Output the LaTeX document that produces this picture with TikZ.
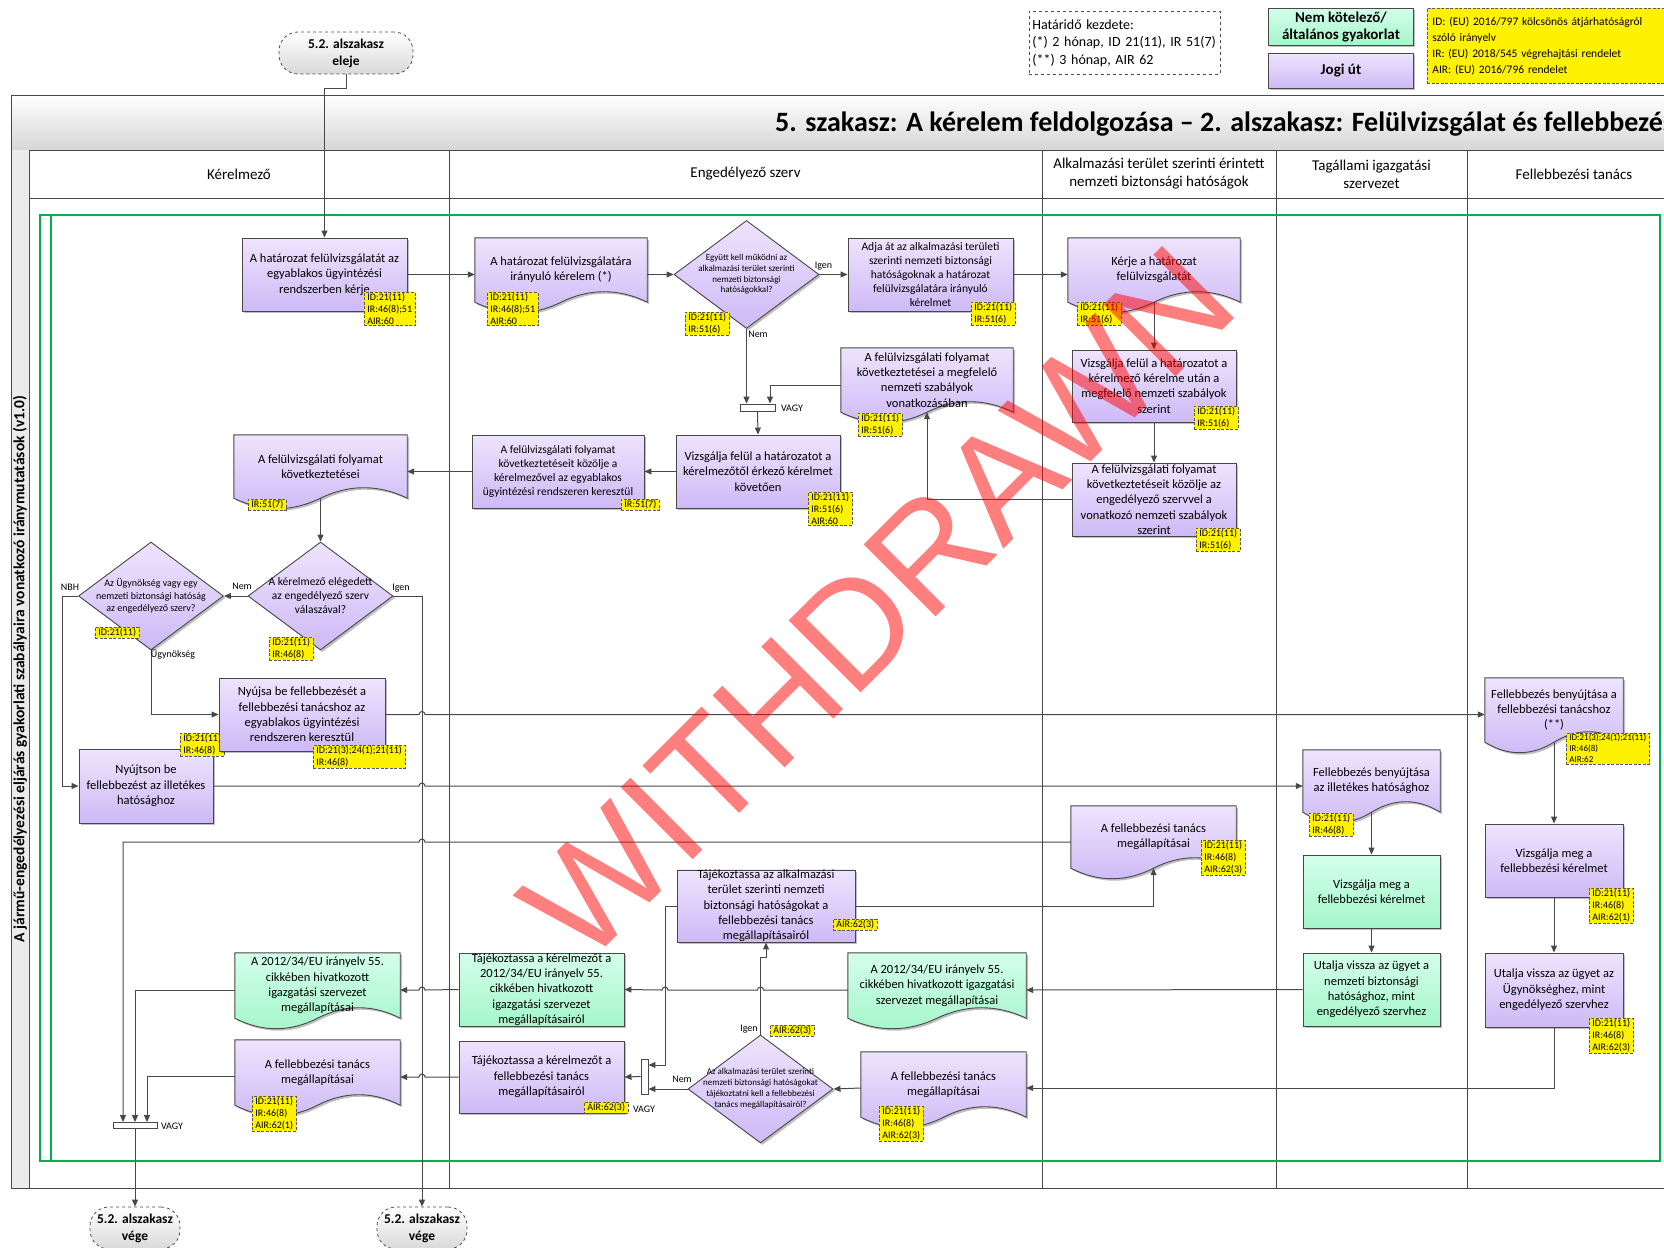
\documentclass[tikz,border=0pt]{standalone}
\usepackage{fontspec}
\setmainfont{Carlito}
\newfontfamily\wmfont{Liberation Sans}
\usetikzlibrary{calc,positioning,arrows.meta,shapes.geometric,shapes.symbols,shadows,backgrounds}

\definecolor{purpT}{RGB}{238,228,253}
\definecolor{purpB}{RGB}{206,185,246}
\definecolor{grnT}{RGB}{212,255,234}
\definecolor{grnB}{RGB}{164,246,202}
\definecolor{lineC}{RGB}{72,72,72}
\definecolor{frameG}{RGB}{0,176,80}

\newcommand{\bx}{\fontsize{12.5}{15.3}\selectfont}
\newcommand{\sbx}{\fontsize{11.5}{14}\selectfont}
\newcommand{\rf}{\fontsize{10}{12}\selectfont}
\newcommand{\jr}{arc[start angle=180,end angle=0,radius=3pt]}
\newcommand{\jl}{arc[start angle=0,end angle=180,radius=3pt]}

\tikzset{
>={Triangle[length=7pt,width=6pt]},
  shadowed/.style={drop shadow={shadow xshift=2pt, shadow yshift=-2pt, opacity=.25, fill=black}},
  procbox/.style={
    rectangle,
    draw=lineC, line width=.9pt,
    top color=purpT, bottom color=purpB,
    shadowed,
    align=center,
    inner xsep=2pt, inner ysep=0pt,
    font=\bx},
  greenbox/.style={procbox, top color=grnT, bottom color=grnB},
  docbox/.style={
    rectangle,
    align=center,
    inner xsep=2pt, inner ysep=0pt,
    font=\bx},
  docshade/.style={draw=lineC, line width=.9pt, top color=#1T, bottom color=#1B, shadowed},
  decision/.style={
    diamond, aspect=1.35,
    draw=lineC, line width=.9pt,
    top color=purpT, bottom color=purpB,
    shadowed,
    minimum width=145pt, minimum height=108pt,
    inner sep=-12pt, align=center},
  refbox/.style={
    anchor=north west,
    fill=yellow, draw=black!65, line width=.8pt,
    dash pattern=on 3pt off 1.5pt,
    inner xsep=3pt, inner ysep=1pt, align=left, font=\rf},
  orbar/.style={rectangle, draw=lineC, fill=white, line width=.9pt, inner sep=0pt},
  terminal/.style={
    rectangle, rounded corners=19pt,
    draw=black!70, dashed, line width=.8pt,
    top color=white, bottom color=black!15,
    minimum width=90pt, minimum height=42pt,
    align=center, inner sep=0pt,
    font=\fontsize{13.5}{17}\selectfont\bfseries},
  lanehead/.style={align=center, font=\fontsize{15}{18}\selectfont},
  lbl/.style={font=\fontsize{10}{12}\selectfont, inner sep=1pt},
  line/.style={draw=lineC, line width=1pt, ->},
}

\begin{document}
\begin{tikzpicture}[x=1pt, y=-1pt]
\useasboundingbox (0,0) rectangle (1664,1247);
\clip (0,0) rectangle (1664,1247);

% pool, title bar and lanes
\shade[top color=white, bottom color=black!16, draw=lineC, line width=1pt] (11,95) rectangle (1690,150);
\fill[black!8] (11,150) rectangle (29,1188);
\draw[lineC, line width=1pt] (11,150) -- (11,1188) -- (1690,1188);
\draw[lineC, line width=1pt] (29,150) -- (29,1188);
\draw[lineC, line width=1pt] (29,198) -- (1690,198);
\foreach \x in {449,1042,1276,1467}
  \draw[lineC, line width=1pt] (\x,150) -- (\x,1188);

\node[anchor=base west, inner sep=0pt, font=\fontsize{28}{32}\selectfont\bfseries] (title) at (775,131) {5. szakasz: A kérelem feldolgozása – 2. alszakasz: Felülvizsgálat és fellebbezés};
\node[rotate=90, inner sep=0pt, font=\fontsize{15.5}{17}\selectfont\bfseries] (sideTitle) at (20,669) {A jármű-engedélyezési eljárás gyakorlati szabályaira vonatkozó iránymutatások (v1.0)};

\node[lanehead] (laneApp) at (239,174) {Kérelmező};
\node[lanehead] (laneEnt) at (745.5,174) {Engedélyező szerv};
\node[lanehead] (laneNSA) at (1159,174) {Alkalmazási terület szerinti érintett\\nemzeti biztonsági hatóságok};
\node[lanehead] (laneAdmin) at (1371.5,174) {Tagállami igazgatási\\szervezet};
\node[lanehead] (laneBoard) at (1574,174) {Fellebbezési tanács};

\draw[frameG, line width=2.5pt] (40,215) rectangle (1660,1161);
\draw[frameG, line width=2.5pt] (51,215) -- (51,1161);

% legend
\node[draw=black!70, dashed, line width=.6pt, anchor=north west, minimum width=191pt, minimum height=63pt, text width=185pt, align=left, inner sep=3pt, font=\fontsize{14}{17.5}\selectfont] (deadline) at (1029,11) {Határidő kezdete:\\(*) 2 hónap, ID 21(11), IR 51(7)\\(**) 3 hónap, AIR 62};
\node[greenbox, anchor=north west, minimum width=145pt, minimum height=37pt, font=\fontsize{15}{17}\selectfont\bfseries] (legOpt) at (1268,8) {Nem kötelező/\\általános gyakorlat};
\node[procbox, anchor=north west, minimum width=145pt, minimum height=35pt, font=\fontsize{15}{17}\selectfont\bfseries] (legLaw) at (1268,53) {Jogi út};
\node[refbox, minimum width=250pt, minimum height=75pt, text width=240pt, inner xsep=4pt, font=\fontsize{11.5}{16}\selectfont] (legRef) at (1427,8) {ID: (EU) 2016/797 kölcsönös átjárhatóságról\\szóló irányelv\\IR: (EU) 2018/545 végrehajtási rendelet\\AIR: (EU) 2016/796 rendelet};

\node[terminal, minimum width=134pt] (start) at (346,53) {5.2. alszakasz\\eleje};

% review
\node[procbox, minimum width=165pt, minimum height=73pt] (askReview) at (324.5,274.5) {A határozat felülvizsgálatát az\\egyablakos ügyintézési\\rendszerben kérje};
\node[docbox, minimum width=172pt, minimum height=64pt] (reviewReq) at (561,270) {A határozat felülvizsgálatára\\irányuló kérelem (*)};
\node[decision, font=\fontsize{9}{10.6}\selectfont] (coopNSA) at (746.5,274.5) {Együtt kell működni az\\alkalmazási terület szerinti\\nemzeti biztonsági\\hatóságokkal?};
\node[procbox, font=\sbx, minimum width=165pt, minimum height=73pt] (forwardNSA) at (930.5,274.5) {Adja át az alkalmazási területi\\szerinti nemzeti biztonsági\\hatóságoknak a határozat\\felülvizsgálatára irányuló\\kérelmet};
\node[docbox, minimum width=172pt, minimum height=64pt] (nsaAsk) at (1154,270) {Kérje a határozat\\felülvizsgálatát};
\node[docbox, minimum width=172pt, minimum height=64pt] (natConcl) at (927,380) {A felülvizsgálati folyamat\\következtetései a megfelelő\\nemzeti szabályok\\vonatkozásában};
\node[procbox, minimum width=164pt, minimum height=72pt] (nsaReview) at (1154,386) {Vizsgálja felül a határozatot a\\kérelmező kérelme után a\\megfelelő nemzeti szabályok\\szerint};
\node[orbar, minimum width=35pt, minimum height=7pt] (orA) at (757.5,407.5) {};
\node[docbox, minimum width=173pt, minimum height=63pt] (reviewConcl) at (320.5,466.5) {A felülvizsgálati folyamat\\következtetései};
\node[procbox, font=\sbx, minimum width=172pt, minimum height=73pt] (sendConcl) at (558,471.5) {A felülvizsgálati folyamat\\következtetéseit közölje a\\kérelmezővel az egyablakos\\ügyintézési rendszeren keresztül};
\node[procbox, minimum width=164pt, minimum height=73pt] (entReview) at (758,471.5) {Vizsgálja felül a határozatot a\\kérelmezőtől érkező kérelmet\\követően};
\node[procbox, minimum width=164pt, minimum height=73pt] (nsaConcl) at (1154,499.5) {A felülvizsgálati folyamat\\következtetéseit közölje az\\engedélyező szervvel a\\vonatkozó nemzeti szabályok\\szerint};

% appeal
\node[decision, font=\fontsize{11.5}{14}\selectfont] (satisfied) at (320.5,596) {A kérelmező elégedett\\az engedélyező szerv\\válaszával?};
\node[decision, font=\fontsize{10}{12.8}\selectfont] (whoEnt) at (151,596) {Az Ügynökség vagy egy\\nemzeti biztonsági hatóság\\az engedélyező szerv?};
\node[procbox, minimum width=134pt, minimum height=74pt] (appealNSA) at (146,786) {Nyújtson be\\fellebbezést az illetékes\\hatósághoz};
\node[refbox] (refAppealNSA) at (180,733) {ID:21(11)\\IR:46(8)};
\node[procbox, minimum width=166pt, minimum height=73pt] (appealBoard) at (302,714.5) {Nyújsa be fellebbezését a\\fellebbezési tanácshoz az\\egyablakos ügyintézési\\rendszeren keresztül};
\node[docbox, minimum width=138pt, minimum height=64pt] (boardAppeal) at (1554,710) {Fellebbezés benyújtása a\\fellebbezési tanácshoz\\(**)};
\node[docbox, minimum width=137pt, minimum height=62pt] (nsaAppeal) at (1371.5,781) {Fellebbezés benyújtása\\az illetékes hatósághoz};
\node[docbox, minimum width=165pt, minimum height=62pt] (nsaFindings) at (1153.5,837) {A fellebbezési tanács\\megállapításai};
\node[greenbox, minimum width=137pt, minimum height=73pt] (adminExam) at (1371.5,891.5) {Vizsgálja meg a\\fellebbezési kérelmet};
\node[greenbox, minimum width=137pt, minimum height=73pt] (adminRefer) at (1371.5,989.5) {Utalja vissza az ügyet a\\nemzeti biztonsági\\hatósághoz, mint\\engedélyező szervhez};
\node[procbox, minimum width=138pt, minimum height=73pt] (boardExam) at (1554,860.5) {Vizsgálja meg a\\fellebbezési kérelmet};
\node[procbox, minimum width=138pt, minimum height=74pt] (boardRefer) at (1554,990) {Utalja vissza az ügyet az\\Ügynökséghez, mint\\engedélyező szervhez};

% findings
\node[procbox, minimum width=178pt, minimum height=72pt] (informNSA) at (766,906) {Tájékoztassa az alkalmazási\\terület szerinti nemzeti\\biztonsági hatóságokat a\\fellebbezési tanács\\megállapításairól};
\node[docbox, minimum width=178pt, minimum height=65pt] (adminFind) at (937,985.5) {A 2012/34/EU irányelv 55.\\cikkében hivatkozott igazgatási\\szervezet megállapításai};
\node[greenbox, minimum width=165pt, minimum height=73pt] (informAdmin) at (541.5,989.5) {Tájékoztassa a kérelmezőt a\\2012/34/EU irányelv 55.\\cikkében hivatkozott\\igazgatási szervezet\\megállapításairól};
\node[procbox, minimum width=165pt, minimum height=72pt] (informBoard) at (541.5,1077) {Tájékoztassa a kérelmezőt a\\fellebbezési tanács\\megállapításairól};
\node[orbar, minimum width=7pt, minimum height=35pt] (orB) at (644.5,1076.5) {};
\node[decision, font=\fontsize{9}{11}\selectfont] (notifyNSA) at (760.5,1089) {Az alkalmazási terület szerinti\\nemzeti biztonsági hatóságokat\\tájékoztatni kell a fellebbezési\\tanács megállapításairól?};
\node[docbox, minimum width=165pt, minimum height=65pt] (boardFind) at (943.5,1084.5) {A fellebbezési tanács\\megállapításai};
\node[docbox, minimum width=165pt, minimum height=65pt] (appAdminFind) at (317.5,985.5) {A 2012/34/EU irányelv 55.\\cikkében hivatkozott\\igazgatási szervezet\\megállapításai};
\node[docbox, minimum width=165pt, minimum height=65pt] (appBoardFind) at (317.5,1072.5) {A fellebbezési tanács\\megállapításai};
\node[orbar, minimum width=44pt, minimum height=6pt] (orC) at (135,1125.5) {};
\node[terminal] (endA) at (135,1228) {5.2. alszakasz\\vége};
\node[terminal] (endB) at (422,1228) {5.2. alszakasz\\vége};

% document outlines
\begin{scope}[on background layer]
\foreach \nd/\col in {reviewReq/purp, nsaAsk/purp, natConcl/purp, reviewConcl/purp, boardAppeal/purp, nsaAppeal/purp, nsaFindings/purp, adminFind/grn, boardFind/purp, appAdminFind/grn, appBoardFind/purp}
  \path[docshade=\col] (\nd.north west) -- (\nd.north east) -- (\nd.south east)
    .. controls ($(\nd.south east)!.33!(\nd.south)+(0,-14)$) and ($(\nd.south east)!.67!(\nd.south)+(0,-14)$) .. (\nd.south)
    .. controls ($(\nd.south)!.33!(\nd.south west)+(0,14)$) and ($(\nd.south)!.67!(\nd.south west)+(0,14)$) .. (\nd.south west) -- cycle;
\end{scope}

% legal references
\node[refbox] (refAsk) at (364,292) {ID:21(11)\\IR:46(8);51\\AIR:60};
\node[refbox] (refReq) at (487,292) {ID:21(11)\\IR:46(8);51\\AIR:60};
\node[refbox] (refCoop) at (685,312) {ID:21(11)\\IR:51(6)};
\node[refbox] (refFwd) at (971,302) {ID:21(11)\\IR:51(6)};
\node[refbox] (refNsaAsk) at (1077,302) {ID:21(11)\\IR:51(6)};
\node[refbox] (refNat) at (858,413) {ID:21(11)\\IR:51(6)};
\node[refbox] (refNsaRev) at (1194,406) {ID:21(11)\\IR:51(6)};
\node[refbox] (refConcl) at (248,499) {IR:51(7)};
\node[refbox] (refSend) at (621,499) {IR:51(7)};
\node[refbox] (refEnt) at (808,492) {ID:21(11)\\IR:51(6)\\AIR:60};
\node[refbox] (refNsaConcl) at (1196,528) {ID:21(11)\\IR:51(6)};
\node[refbox] (refSat) at (269,637) {ID:21(11)\\IR:46(8)};
\node[refbox] (refWho) at (95,627) {ID:21(11)};
\node[refbox] (refAppealBoard) at (313,745) {ID:21(3);24(1);21(11)\\IR:46(8)};
\node[refbox, font=\fontsize{9}{11}\selectfont] (refBoardAppeal) at (1566,733) {ID:21(3);24(1);21(11)\\IR:46(8)\\AIR:62};
\node[refbox] (refNsaAppeal) at (1309,813) {ID:21(11)\\IR:46(8)};
\node[refbox] (refNsaFind) at (1201,840) {ID:21(11)\\IR:46(8)\\AIR:62(3)};
\node[refbox] (refBoardExam) at (1589,888) {ID:21(11)\\IR:46(8)\\AIR:62(1)};
\node[refbox] (refBoardRefer) at (1589,1018) {ID:21(11)\\IR:46(8)\\AIR:62(3)};
\node[refbox] (refInformNSA) at (833,919) {AIR:62(3)};
\node[refbox] (refNotify) at (770,1025) {AIR:62(3)};
\node[refbox] (refInformBoard) at (584,1102) {AIR:62(3)};
\node[refbox] (refBoardFind) at (879,1106) {ID:21(11)\\IR:46(8)\\AIR:62(3)};
\node[refbox] (refAppBoardFind) at (252,1096) {ID:21(11)\\IR:46(8)\\AIR:62(1)};

% connectors
\draw[line] (start.south) -- ++(0,14) -| (askReview.north);
\draw[line] (askReview.east) -- ([yshift=-4.5pt]reviewReq.west);
\draw[line] ([yshift=-4.5pt]reviewReq.east) -- (coopNSA.west);
\draw[line] (coopNSA.east) -- (forwardNSA.west);
\draw[line] (forwardNSA.east) -- ([yshift=-4.5pt]nsaAsk.west);
\draw[line] (nsaAsk.south) -- (nsaReview.north);
\draw[line] (nsaReview.south) -- (nsaConcl.north);
\draw[line] (nsaConcl.west) -| (natConcl.south);
\draw[line] (coopNSA.south) -- ([xshift=-11pt]orA.north);
\draw[line] ([yshift=-5pt]natConcl.west) -| ([xshift=12.5pt]orA.north);
\draw[line] (orA.south) -- (entReview.north);
\draw[line] (entReview.west) -- (sendConcl.east);
\draw[line] (sendConcl.west) -- ([yshift=-5pt]reviewConcl.east);
\draw[line] (reviewConcl.south) -- (satisfied.north);
\draw[line] (satisfied.west) -- (whoEnt.east);
\draw[line] (satisfied.east) -| (endB.north);
\draw[line] (whoEnt.west) -- ++(-16,0) |- (appealNSA.west);
\draw[line] (whoEnt.south) |- (appealBoard.west);
\draw[line] (appealBoard.east) -- (419,714.5) \jr -- ([yshift=-4.5pt]boardAppeal.west);
\draw[line] (appealNSA.east) -- (419,786) \jr -- ([yshift=-5pt]nsaAppeal.west);
\draw[line] (boardAppeal.south) -- (boardExam.north);
\draw[line] (boardExam.south) -- (boardRefer.north);
\draw[line] (nsaAppeal.south) -- (adminExam.north);
\draw[line] (adminExam.south) -- (adminRefer.north);
\draw[line] (adminRefer.west) -- ([yshift=-4.5pt]adminFind.east);
\draw[line] ([yshift=-4.5pt]adminFind.west) -- (763.5,990) \jl -- (668,990) \jl -- (informAdmin.east);
\draw[line] (informAdmin.west) -- (425,990) \jl -- ([yshift=-4.5pt]appAdminFind.east);
\draw[line] ([yshift=-4.5pt]appAdminFind.west) -| (orC.north);
\draw[line] (boardRefer.south) |- ([yshift=-3.5pt]boardFind.east);
\draw[line] ([yshift=-3.5pt]boardFind.west) -- (notifyNSA.east);
\draw[line] (notifyNSA.west) -- (orB.east |- notifyNSA.west);
\draw[line] (orB.west) -- (informBoard.east);
\draw[line] (informBoard.west) -- (425,1077) \jl -- ([yshift=-4.5pt]appBoardFind.east);
\draw[line] ([yshift=-3.5pt]appBoardFind.west) -| ([xshift=12pt]orC.north);
\draw[line] (notifyNSA.north) -- (760.5,957) -- (766,957) -- (informNSA.south);
\draw[line] (informNSA.west) -- (665,906) |- ([yshift=11.5pt]orB.east);
\draw[line] (informNSA.east) -| (nsaFindings.south);
\draw[line] ([yshift=-5pt]nsaFindings.west) -- (425,842) \jl -| ([xshift=-12pt]orC.north);
\draw[line] (orC.south) -- (endA.north);

% branch labels
\node[lbl] (lblIgenA) at (823.5,266) {Igen};
\node[lbl] (lblNemA) at (758,334) {Nem};
\node[lbl] (lblNemB) at (242,586) {Nem};
\node[lbl] (lblIgenB) at (401,588) {Igen};
\node[lbl] (lblNBH) at (70,587) {NBH};
\node[lbl] (lblAgency) at (173,654) {Ügynökség};
\node[lbl] (lblOrA) at (792,408) {VAGY};
\node[lbl] (lblIgenC) at (749,1029) {Igen};
\node[lbl] (lblNemC) at (682,1079) {Nem};
\node[lbl] (lblOrB) at (644,1109) {VAGY};
\node[lbl] (lblOrC) at (172,1126) {VAGY};

% watermark
\node[text=red, text opacity=.5, rotate=45, font=\wmfont\fontsize{148}{148}\selectfont] (withdrawn) at (878,603) {WITHDRAWN};
\end{tikzpicture}
\end{document}
